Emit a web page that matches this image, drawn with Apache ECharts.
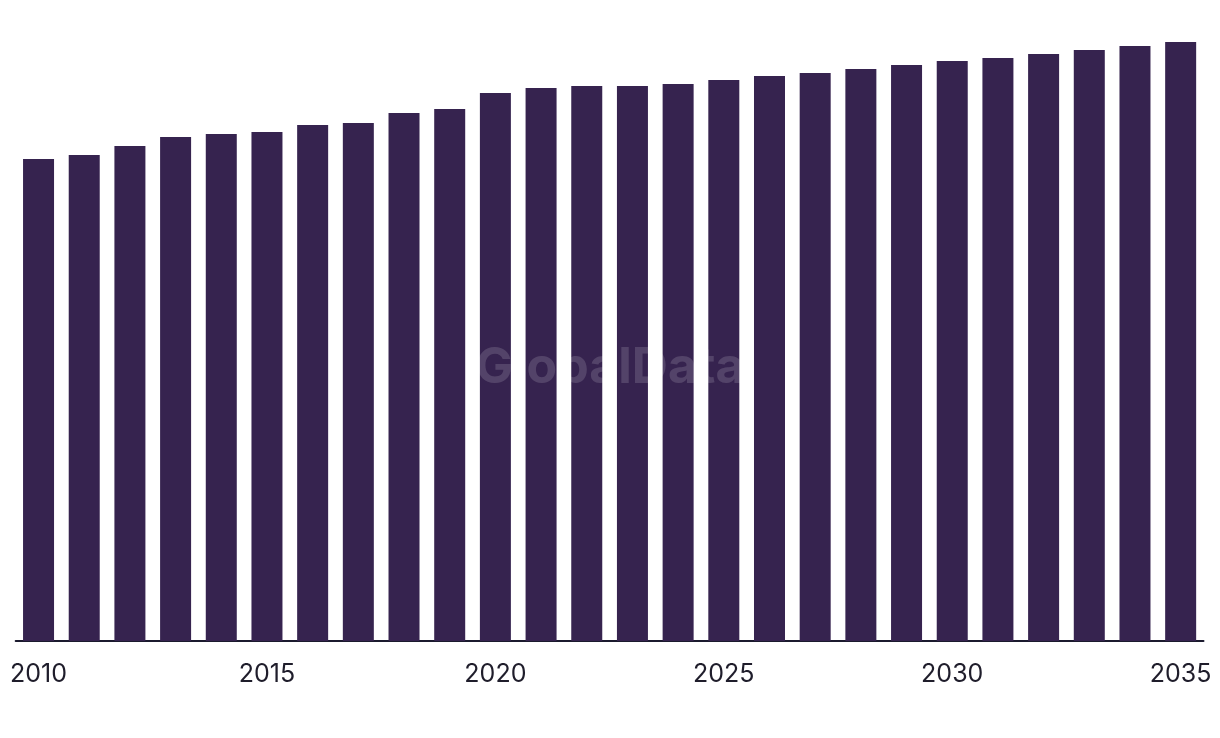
<!DOCTYPE html>
<html>
<head>
<meta charset="utf-8">
<script src="https://cdn.jsdelivr.net/npm/echarts@6/dist/echarts.min.js"></script>
<style>
html,body{margin:0;padding:0;background:#fff;}
#c{width:1220px;height:738px;}
</style>
</head>
<body>
<div id="c"></div>
<script>
var years = ['2010','2011','2012','2013','2014','2015','2016','2017','2018','2019','2020','2021','2022','2023','2024','2025','2026','2027','2028','2029','2030','2031','2032','2033','2034','2035'];
var values = [482,486,495,504,507,509,516,518,528,532,548,553,555,555,557,561,565,568,572,576,580,583,587,591,595,599];
var shownLabels = ['2010','2015','2020','2025','2030','2035'];

var chart = echarts.init(document.getElementById('c'));
chart.setOption({
  animation: false,
  backgroundColor: '#ffffff',
  grid: { left: 15.7, right: 16.5, top: 41, bottom: 97, containLabel: false },
  xAxis: {
    type: 'category',
    data: years,
    axisLine: { show: true, lineStyle: { color: '#1b1a2e', width: 2 } },
    axisTick: { show: false },
    axisLabel: {
      interval: 0,
      margin: 21,
      color: '#1f1d2b',
      fontSize: 25,
      fontFamily: 'Inter',
      formatter: function (v) { return shownLabels.indexOf(v) >= 0 ? v : ''; }
    }
  },
  yAxis: {
    type: 'value',
    min: 0,
    max: 600,
    show: false,
    splitLine: { show: false }
  },
  series: [{
    type: 'bar',
    data: values,
    barWidth: 31,
    itemStyle: { color: '#36234f' }
  }],
  graphic: [{
    type: 'text',
    left: 'center',
    top: 343,
    z: 100,
    style: {
      text: 'GlobalData',
      font: 'bold 50px Inter',
      fill: 'rgba(255,255,255,0.15)'
    }
  }]
});
</script>
</body>
</html>
